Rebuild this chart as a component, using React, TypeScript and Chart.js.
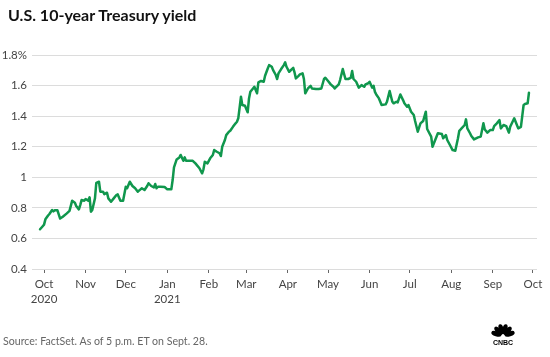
import React, { useEffect, useRef } from "react";
import { Chart, registerables } from "chart.js";

Chart.register(...registerables);

const title = "U.S. 10-year Treasury yield";
const source = "Source: FactSet. As of 5 p.m. ET on Sept. 28.";

const dates = [
  "2020-09-28", "2020-09-30", "2020-10-01", "2020-10-02", "2020-10-04", "2020-10-05", "2020-10-07", "2020-10-08", "2020-10-09", "2020-10-11", "2020-10-13", "2020-10-15", "2020-10-18", "2020-10-20", "2020-10-22", "2020-10-24", "2020-10-25", "2020-10-27", "2020-10-28", "2020-10-29", "2020-10-31",
  "2020-11-01", "2020-11-03", "2020-11-04", "2020-11-05", "2020-11-06", "2020-11-08", "2020-11-09", "2020-11-11", "2020-11-12", "2020-11-14", "2020-11-15", "2020-11-17", "2020-11-18", "2020-11-20", "2020-11-22", "2020-11-24", "2020-11-25", "2020-11-27", "2020-11-29",
  "2020-12-01", "2020-12-02", "2020-12-04", "2020-12-06", "2020-12-08", "2020-12-10", "2020-12-12", "2020-12-13", "2020-12-15", "2020-12-17", "2020-12-18", "2020-12-20", "2020-12-22", "2020-12-23", "2020-12-24", "2020-12-25", "2020-12-27", "2020-12-30",
  "2021-01-01", "2021-01-04", "2021-01-05", "2021-01-06", "2021-01-08", "2021-01-10", "2021-01-11", "2021-01-13", "2021-01-14", "2021-01-15", "2021-01-17", "2021-01-20", "2021-01-22", "2021-01-25", "2021-01-27", "2021-01-28", "2021-01-29", "2021-01-31",
  "2021-02-02", "2021-02-04", "2021-02-05", "2021-02-07", "2021-02-09", "2021-02-10", "2021-02-11", "2021-02-13", "2021-02-14", "2021-02-16", "2021-02-17", "2021-02-19", "2021-02-21", "2021-02-22", "2021-02-23", "2021-02-25", "2021-02-26", "2021-02-28",
  "2021-03-02", "2021-03-03", "2021-03-04", "2021-03-06", "2021-03-07", "2021-03-09", "2021-03-10", "2021-03-12", "2021-03-14", "2021-03-15", "2021-03-17", "2021-03-18", "2021-03-20", "2021-03-21", "2021-03-23", "2021-03-24", "2021-03-25", "2021-03-27", "2021-03-29", "2021-03-30", "2021-03-31",
  "2021-04-02", "2021-04-04", "2021-04-05", "2021-04-06", "2021-04-07", "2021-04-09", "2021-04-10", "2021-04-12", "2021-04-13", "2021-04-14", "2021-04-16", "2021-04-18", "2021-04-19", "2021-04-22", "2021-04-24", "2021-04-26", "2021-04-28", "2021-04-29",
  "2021-05-01", "2021-05-03", "2021-05-05", "2021-05-06", "2021-05-09", "2021-05-10", "2021-05-12", "2021-05-14", "2021-05-16", "2021-05-18", "2021-05-19", "2021-05-20", "2021-05-22", "2021-05-24", "2021-05-26", "2021-05-28", "2021-05-29", "2021-05-31",
  "2021-06-01", "2021-06-03", "2021-06-04", "2021-06-05", "2021-06-06", "2021-06-08", "2021-06-10", "2021-06-13", "2021-06-14", "2021-06-16", "2021-06-18", "2021-06-19", "2021-06-21", "2021-06-22", "2021-06-24", "2021-06-26", "2021-06-27", "2021-06-29", "2021-06-30",
  "2021-07-02", "2021-07-04", "2021-07-05", "2021-07-07", "2021-07-09", "2021-07-11", "2021-07-13", "2021-07-14", "2021-07-17", "2021-07-18", "2021-07-20", "2021-07-22", "2021-07-25", "2021-07-26", "2021-07-28", "2021-07-29", "2021-07-31",
  "2021-08-02", "2021-08-04", "2021-08-06", "2021-08-07", "2021-08-08", "2021-08-11", "2021-08-12", "2021-08-13", "2021-08-15", "2021-08-16", "2021-08-18", "2021-08-21", "2021-08-23", "2021-08-25", "2021-08-26", "2021-08-28", "2021-08-30",
  "2021-09-01", "2021-09-02", "2021-09-04", "2021-09-06", "2021-09-07", "2021-09-09", "2021-09-11", "2021-09-13", "2021-09-14", "2021-09-17", "2021-09-19", "2021-09-20", "2021-09-22", "2021-09-24", "2021-09-25", "2021-09-27", "2021-09-28",
];

const yields = [
  0.66, 0.68, 0.69, 0.725, 0.75, 0.76, 0.786, 0.777, 0.784, 0.784, 0.73, 0.742, 0.764, 0.78, 0.847, 0.834, 0.812, 0.79, 0.818, 0.851, 0.847,
  0.858, 0.847, 0.869, 0.775, 0.786, 0.862, 0.964, 0.971, 0.906, 0.906, 0.89, 0.899, 0.862, 0.84, 0.862, 0.884, 0.888, 0.847, 0.847,
  0.938, 0.928, 0.971, 0.943, 0.928, 0.906, 0.921, 0.928, 0.917, 0.943, 0.961, 0.943, 0.934, 0.956, 0.928, 0.938, 0.938, 0.936,
  0.921, 0.921, 0.982, 1.065, 1.117, 1.13, 1.146, 1.108, 1.13, 1.108, 1.108, 1.108, 1.091, 1.059, 1.026, 1.052, 1.102, 1.091,
  1.124, 1.146, 1.178, 1.167, 1.157, 1.139, 1.2, 1.244, 1.276, 1.298, 1.304, 1.33, 1.353, 1.363, 1.386, 1.527, 1.473, 1.468,
  1.425, 1.516, 1.559, 1.581, 1.592, 1.549, 1.621, 1.63, 1.625, 1.664, 1.712, 1.734, 1.723, 1.701, 1.669, 1.643, 1.68, 1.708, 1.734, 1.752, 1.723,
  1.69, 1.708, 1.716, 1.686, 1.647, 1.664, 1.673, 1.68, 1.643, 1.549, 1.581, 1.598, 1.581, 1.577, 1.577, 1.581, 1.643, 1.651,
  1.63, 1.608, 1.592, 1.581, 1.608, 1.636, 1.708, 1.643, 1.643, 1.651, 1.695, 1.643, 1.625, 1.586, 1.603, 1.592, 1.608, 1.615,
  1.625, 1.586, 1.598, 1.559, 1.542, 1.516, 1.473, 1.477, 1.494, 1.564, 1.494, 1.484, 1.494, 1.49, 1.542, 1.505, 1.484, 1.462, 1.473,
  1.429, 1.407, 1.368, 1.298, 1.353, 1.368, 1.429, 1.316, 1.266, 1.2, 1.244, 1.288, 1.283, 1.255, 1.276, 1.244, 1.211,
  1.178, 1.174, 1.255, 1.304, 1.313, 1.342, 1.379, 1.32, 1.288, 1.27, 1.248, 1.261, 1.266, 1.353, 1.313, 1.292, 1.309,
  1.309, 1.335, 1.353, 1.374, 1.32, 1.342, 1.335, 1.292, 1.33, 1.386, 1.342, 1.32, 1.33, 1.473, 1.479, 1.484, 1.553,
];

const monthTicks = [
  "2020-10-01", "2020-11-01", "2020-12-01", "2021-01-01", "2021-02-01", "2021-03-01", "2021-04-01",
  "2021-05-01", "2021-06-01", "2021-07-01", "2021-08-01", "2021-09-01", "2021-10-01",
];
const monthLabels = [
  ["Oct", "2020"], "Nov", "Dec", ["Jan", "2021"], "Feb", "Mar", "Apr", "May", "Jun", "Jul", "Aug", "Sep", "Oct",
];

const xMinDate = "2020-09-22";
const xMaxDate = "2021-10-04";
const yTicks = [0.4, 0.6, 0.8, 1, 1.2, 1.4, 1.6, 1.8];

const BASE = Date.UTC(2020, 9, 1);
const dayOf = (s: string) => (Date.parse(s + "T00:00:00Z") - BASE) / 86400000;

const FONT = "Lato, 'Open Sans', Arial, sans-serif";

function Logo() {
  const angles = [-162, -132, -105, -75, -48, -18];
  return (
    <svg width="30" height="25" viewBox="0 0 30 25">
      {angles.map((a, i) => {
        const cx = 15 + 7 * Math.cos((a * Math.PI) / 180);
        const cy = 15 + 7 * Math.sin((a * Math.PI) / 180);
        return (
          <ellipse key={i} cx={cx} cy={cy} rx="2.5" ry="5.2" fill="#000" transform={`rotate(${a + 90} ${cx} ${cy})`} />
        );
      })}
      <text x="15" y="24" textAnchor="middle" fontSize="7" fontWeight="900" fontFamily="Arial, sans-serif" fill="#000">
        CNBC
      </text>
    </svg>
  );
}

export default function App() {
  const ref = useRef<HTMLCanvasElement | null>(null);

  useEffect(() => {
    if (!ref.current) return;
    const points = dates.map((d, i) => ({ x: dayOf(d), y: yields[i] }));
    const chart = new Chart(ref.current, {
      type: "line",
      data: {
        datasets: [
          {
            data: points,
            borderColor: "#10974d",
            borderWidth: 2.5,
            pointRadius: 0,
            tension: 0,
            borderJoinStyle: "round",
            borderCapStyle: "round",
            fill: false,
          },
        ],
      },
      options: {
        responsive: false,
        maintainAspectRatio: false,
        animation: false,
        layout: { padding: { top: 55, right: 13, bottom: 48, left: 0 } },
        plugins: { legend: { display: false }, tooltip: { enabled: false }, title: { display: false } },
        scales: {
          x: {
            type: "linear",
            min: dayOf(xMinDate),
            max: dayOf(xMaxDate),
            afterBuildTicks: (scale: any) => {
              scale.ticks = monthTicks.map((s) => ({ value: dayOf(s) }));
            },
            afterFit: (scale: any) => {
              scale.height = 40;
            },
            grid: {
              drawOnChartArea: false,
              drawTicks: true,
              tickLength: 4,
              color: "#666",
              lineWidth: 1,
            },
            border: { display: false },
            ticks: {
              autoSkip: false,
              maxRotation: 0,
              padding: 4,
              color: "#444",
              font: { family: FONT, size: 11.5, lineHeight: 1.3 },
              callback: (_v: any, i: number) => monthLabels[i],
            },
          },
          y: {
            min: 0.4,
            max: 1.8,
            afterBuildTicks: (scale: any) => {
              scale.ticks = yTicks.map((v) => ({ value: v }));
            },
            afterFit: (scale: any) => {
              scale.width = 32;
            },
            grid: { color: "#dcdcdc", lineWidth: 1, drawTicks: false },
            border: { display: false },
            ticks: {
              padding: 5,
              color: "#444",
              font: { family: FONT, size: 11.5 },
              callback: (v: any) => {
                const n = Math.round(Number(v) * 10) / 10;
                return n === 1.8 ? "1.8%" : String(n);
              },
            },
          },
        },
      },
    });
    return () => chart.destroy();
  }, []);

  return (
    <div style={{ position: "fixed", left: 0, top: 0, width: 550, height: 357, background: "#fff", overflow: "hidden" }}>
      <canvas ref={ref} width={550} height={357} style={{ position: "absolute", left: 0, top: 0, width: 550, height: 357 }} />
      <div
        style={{
          position: "absolute",
          left: 8,
          top: 5,
          fontFamily: FONT,
          fontWeight: 700,
          fontSize: 16,
          color: "#111",
          whiteSpace: "nowrap",
        }}
      >
        {title}
      </div>
      <div
        style={{
          position: "absolute",
          left: 3,
          top: 335,
          fontFamily: FONT,
          fontSize: 10.6,
          color: "#666",
          whiteSpace: "nowrap",
        }}
      >
        {source}
      </div>
      <div style={{ position: "absolute", left: 488, top: 321 }}>
        <Logo />
      </div>
    </div>
  );
}
